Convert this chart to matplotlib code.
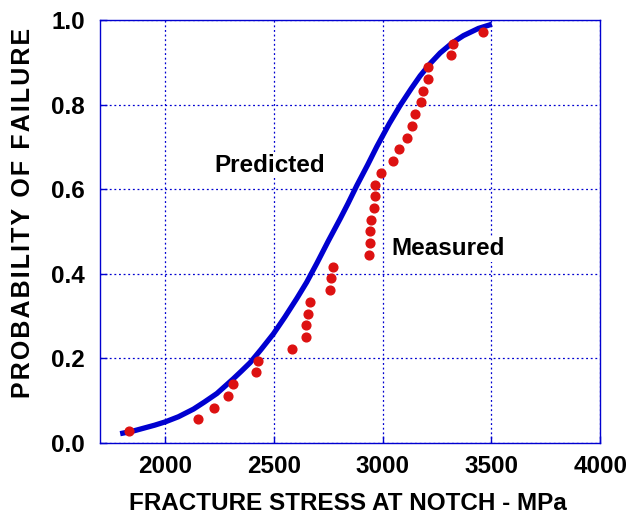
import matplotlib
matplotlib.use("Agg")
import matplotlib.pyplot as plt

# measured failures (stress in MPa, cumulative probability)
measured_stress = [1833, 2152, 2224, 2290, 2310, 2419, 2425, 2582, 2645, 2647,
                   2655, 2663, 2758, 2764, 2773, 2937, 2939, 2939, 2944, 2959,
                   2962, 2963, 2991, 3049, 3075, 3113, 3133, 3147, 3178, 3183,
                   3207, 3207, 3316, 3325, 3463]
measured_prob = [0.028, 0.056, 0.083, 0.111, 0.139, 0.167, 0.194, 0.222, 0.250, 0.278,
                 0.306, 0.333, 0.361, 0.389, 0.417, 0.444, 0.472, 0.500, 0.528, 0.556,
                 0.583, 0.611, 0.639, 0.667, 0.694, 0.722, 0.750, 0.778, 0.806, 0.833,
                 0.861, 0.889, 0.917, 0.944, 0.972]

# predicted curve
pred_stress = [1792, 1850, 1900, 1950, 2000, 2060, 2129, 2180, 2237, 2313, 2350, 2390,
               2440, 2497, 2550, 2605, 2650, 2697, 2750, 2804, 2840, 2881, 2930,
               2973, 3030, 3080, 3130, 3172, 3220, 3264, 3320, 3371, 3440, 3502]
pred_prob = [0.022, 0.028, 0.035, 0.042, 0.050, 0.062, 0.080, 0.097, 0.117, 0.152, 0.170, 0.190,
             0.221, 0.258, 0.298, 0.342, 0.380, 0.425, 0.478, 0.530, 0.566, 0.609, 0.657,
             0.701, 0.755, 0.798, 0.837, 0.868, 0.898, 0.922, 0.946, 0.963, 0.980, 0.990]

x_ticks = [2000, 2500, 3000, 3500, 4000]
y_ticks = [0.0, 0.2, 0.4, 0.6, 0.8, 1.0]

blue = "#0000d0"
red = "#dd1111"
font = ["Liberation Sans", "DejaVu Sans"]

fig = plt.figure(figsize=(6.26, 5.16), dpi=100)
ax = fig.add_axes([0.160, 0.1415, 0.7987, 0.8198])

ax.plot(pred_stress, pred_prob, color=blue, lw=3.8, solid_capstyle="butt",
        solid_joinstyle="round", zorder=3)
ax.plot(measured_stress, measured_prob, "o", color=red, ms=6.3, mec=red, zorder=4)

ax.set_xlim(1700, 4000)
ax.set_ylim(0, 1.0)
ax.set_xticks(x_ticks)
ax.set_yticks(y_ticks)
ax.set_yticklabels([f"{v:.1f}" for v in y_ticks])
ax.grid(True, color=blue, lw=0.9, linestyle=(0, (1.5, 2.2)))
ax.set_axisbelow(True)
for s in ax.spines.values():
    s.set_color(blue)
    s.set_linewidth(1.0)
ax.tick_params(direction="in", length=5, color=blue, width=1.0, labelsize=17.5)
ax.tick_params(axis="x", pad=9)
ax.tick_params(axis="y", pad=11)
for lab in ax.get_xticklabels() + ax.get_yticklabels():
    lab.set_fontweight("bold")
    lab.set_family(font)

ax.text(2482, 0.657, "Predicted", fontsize=17.5, fontweight="bold", family=font,
        ha="center", va="center", zorder=5,
        bbox=dict(facecolor="white", edgecolor="none", pad=1))
ax.text(3301, 0.459, "Measured", fontsize=17.5, fontweight="bold", family=font,
        ha="center", va="center", zorder=5,
        bbox=dict(facecolor="white", edgecolor="none", pad=1))

hs = "\u200a"
ax.set_xlabel("FRACTURE STRESS AT NOTCH - MPa", fontsize=17.5, fontweight="bold",
              family=font, va="center")
ax.xaxis.set_label_coords(0.496, -0.142)
ax.set_ylabel(hs.join("PROBABILITY OF FAILURE"), fontsize=18, fontweight="bold",
              family=font, va="center")
ax.yaxis.set_label_coords(-0.154, 0.545)

fig.savefig("out.png", dpi=100)
